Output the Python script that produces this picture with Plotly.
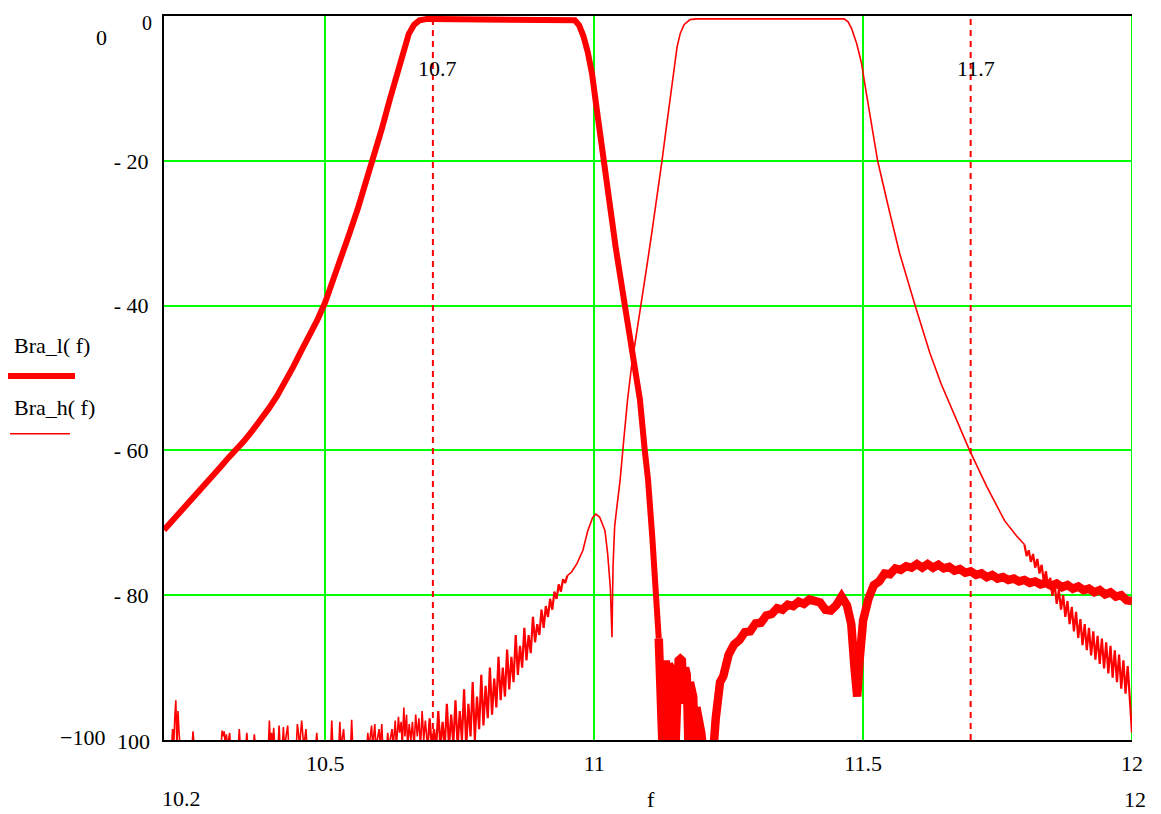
import numpy as np
import plotly.graph_objects as go

# ---------------- data ----------------
# Bra_l(f): thick curve – pass band and skirts
bra_l_f_main = [10.200, 10.215, 10.230, 10.245, 10.260, 10.275, 10.290, 10.305, 10.320, 10.336,
                10.350, 10.365, 10.380, 10.395, 10.410, 10.425, 10.440, 10.455, 10.470, 10.485,
                10.500, 10.515, 10.530, 10.545, 10.560, 10.575, 10.590, 10.605, 10.620, 10.635,
                10.645, 10.655, 10.665, 10.675, 10.690, 10.800, 10.900, 10.955, 10.964, 10.972,
                10.980, 10.988, 10.996, 11.004, 11.016, 11.028, 11.040, 11.057, 11.070, 11.085,
                11.094, 11.100, 11.108, 11.116, 11.120]
bra_l_y_main = [-71.0, -69.8, -68.5, -67.2, -66.0, -64.8, -63.5, -62.3, -61.0, -59.8,
                -58.6, -57.2, -55.8, -54.2, -52.5, -50.6, -48.5, -46.3, -44.2, -42.0,
                -39.5, -36.5, -33.3, -30.0, -26.7, -23.2, -19.5, -15.6, -11.5, -7.3,
                -4.5, -2.5, -1.2, -0.6, -0.4, -0.4, -0.4, -0.4, -0.6, -1.3,
                -2.8, -5.0, -8.0, -12.5, -19.5, -26.0, -32.0, -40.0, -45.5, -53.0,
                -60.0, -64.0, -72.0, -80.0, -86.0]
# Bra_l(f): thick curve – noisy stop band
bra_l_f_low = [11.120, 11.124, 11.127, 11.130, 11.133, 11.136, 11.139, 11.142, 11.145, 11.148,
               11.151, 11.154, 11.157, 11.160, 11.163, 11.166, 11.169, 11.172, 11.175, 11.178,
               11.181, 11.184, 11.187, 11.190, 11.193, 11.196, 11.199, 11.202, 11.206, 11.212,
               11.218, 11.222, 11.226, 11.230, 11.234]
bra_l_y_low = [-86.0, -95.0, -101.0, -92.0, -89.0, -101.0, -89.5, -90.0, -101.0, -96.0,
               -101.0, -91.0, -89.0, -88.8, -89.0, -95.0, -90.0, -91.0, -100.0, -92.0,
               -93.0, -94.0, -101.0, -95.5, -96.5, -98.0, -99.0, -101.0, -103.0, -104.0,
               -103.0, -101.0, -97.0, -94.0, -92.0]
bra_l_f_stop_a = np.round(np.arange(11.24, 11.4701, 0.01), 3)
bra_l_y_stop_a = [-91.2, -88.2, -86.8, -86.2, -85.1, -85.0, -83.9, -83.8, -82.8, -82.6,
                  -81.8, -82.0, -81.3, -81.5, -80.9, -81.2, -80.6, -80.9, -81.0, -82.0,
                  -82.1, -81.4, -80.2, -81.4]
bra_l_f_notch = [11.478, 11.484, 11.489, 11.494, 11.500]
bra_l_y_notch = [-84.0, -90.0, -94.0, -88.5, -83.5]
bra_l_f_stop_b = np.round(np.arange(11.51, 12.0001, 0.01), 3)
bra_l_y_stop_b = [-80.5, -78.6, -78.1, -77.0, -77.1, -76.3, -76.5, -76.0, -76.2, -75.7,
                  -76.2, -75.7, -76.2, -75.8, -76.3, -76.1, -76.6, -76.4, -76.9, -76.7,
                  -77.2, -77.0, -77.5, -77.2, -77.7, -77.5, -77.9, -77.7, -78.1, -77.9,
                  -78.3, -78.1, -78.5, -78.3, -78.7, -78.4, -78.9, -78.6, -79.1, -78.8,
                  -79.3, -79.1, -79.6, -79.3, -79.9, -79.6, -80.2, -80.0, -80.7, -80.8]

# Bra_h(f): thin curve – noise floor with spikes
bra_h_f_floor = [10.200, 10.214, 10.216, 10.218, 10.220, 10.222, 10.224, 10.226, 10.228, 10.230,
                 10.252, 10.254, 10.256, 10.306, 10.308, 10.310, 10.312, 10.314, 10.316, 10.318,
                 10.322, 10.324, 10.338, 10.340, 10.342, 10.352, 10.354, 10.356, 10.366, 10.368,
                 10.370, 10.394, 10.396, 10.398, 10.400, 10.402, 10.404, 10.406, 10.412, 10.414,
                 10.416, 10.420, 10.422, 10.424, 10.430, 10.432, 10.446, 10.448, 10.450, 10.452,
                 10.456, 10.458, 10.460, 10.464, 10.466, 10.482, 10.484, 10.486, 10.510, 10.512,
                 10.514, 10.525, 10.527, 10.529, 10.534, 10.536, 10.547, 10.549, 10.551, 10.577,
                 10.579, 10.581, 10.586, 10.588, 10.592, 10.594, 10.598, 10.600, 10.602, 10.605,
                 10.607, 10.614, 10.616, 10.618, 10.624, 10.626, 10.630, 10.632, 10.636, 10.638,
                 10.641, 10.643, 10.646, 10.648, 10.651, 10.653, 10.656, 10.659, 10.662, 10.665,
                 10.668, 10.671, 10.674, 10.677, 10.680, 10.683, 10.686, 10.690]
bra_h_y_floor = [-101.0, -101.0, -98.5, -101.0, -97.0, -94.5, -101.0, -96.0, -99.0, -101.0,
                 -101.0, -98.8, -101.0, -101.0, -98.7, -99.5, -98.8, -101.0, -99.2, -101.0,
                 -99.0, -101.0, -101.0, -98.5, -101.0, -101.0, -99.0, -101.0, -101.0, -99.2,
                 -101.0, -101.0, -97.3, -101.0, -99.0, -101.0, -98.3, -101.0, -101.0, -98.0,
                 -101.0, -101.0, -98.2, -101.0, -98.0, -101.0, -101.0, -97.8, -99.0, -101.0,
                 -97.3, -99.0, -101.0, -98.5, -101.0, -101.0, -99.0, -101.0, -101.0, -97.3,
                 -101.0, -101.0, -97.5, -101.0, -98.5, -101.0, -101.0, -97.2, -101.0, -101.0,
                 -99.0, -101.0, -98.0, -101.0, -97.8, -101.0, -99.0, -98.5, -101.0, -97.8,
                 -101.0, -101.0, -99.0, -101.0, -98.5, -101.0, -97.3, -101.0, -96.8, -99.0,
                 -97.5, -101.0, -95.5, -99.5, -96.5, -101.0, -97.8, -100.0, -97.5, -101.0,
                 -96.5, -99.5, -97.0, -101.0, -96.0, -100.0, -97.3, -101.0]
# Bra_h(f): thin curve – noisy rise below 11 GHz
bra_h_f_rise = np.round(np.arange(10.690, 10.9501, 0.004), 3)
bra_h_y_rise = [-101.0, -97.0, -101.0, -98.5, -101.0, -96.0, -101.0, -97.5, -101.0, -95.0,
                -101.0, -96.5, -100.5, -94.5, -101.0, -96.0, -100.0, -93.0, -101.0, -95.0,
                -99.5, -92.0, -100.0, -94.0, -98.5, -91.0, -98.0, -92.5, -97.0, -90.0,
                -96.5, -91.5, -95.5, -88.5, -94.5, -90.0, -94.0, -87.5, -93.0, -88.5,
                -92.0, -85.5, -91.0, -87.0, -90.0, -84.5, -89.0, -85.5, -88.0, -83.0,
                -86.5, -84.0, -85.5, -82.0, -84.5, -81.5, -83.0, -80.5, -82.0, -79.5,
                -80.5, -78.5, -79.5, -77.8, -78.3, -77.3]
# Bra_h(f): thin curve – clean part
bra_h_f_main = [10.950, 10.958, 10.968, 10.979, 10.988, 10.997, 11.003, 11.010, 11.020, 11.025,
                11.030, 11.033, 11.035, 11.038, 11.042, 11.048, 11.055, 11.062, 11.070, 11.079,
                11.088, 11.098, 11.107, 11.116, 11.126, 11.133, 11.141, 11.148, 11.154, 11.160,
                11.167, 11.178, 11.190, 11.300, 11.465, 11.472, 11.479, 11.488, 11.497, 11.505,
                11.516, 11.527, 11.549, 11.568, 11.596, 11.624, 11.645, 11.667, 11.698, 11.730,
                11.763, 11.785, 11.800]
bra_h_y_main = [-77.3, -76.8, -75.6, -73.8, -71.1, -69.3, -68.8, -69.2, -71.1, -74.3,
                -79.0, -85.8, -76.0, -70.5, -67.9, -64.2, -58.5, -53.0, -48.0, -43.8,
                -39.5, -34.5, -30.0, -25.5, -20.0, -16.0, -11.4, -7.3, -4.3, -2.4,
                -1.2, -0.5, -0.4, -0.4, -0.4, -0.8, -1.8, -3.8, -6.5, -10.2,
                -15.0, -20.0, -27.0, -32.8, -39.8, -46.5, -50.8, -54.6, -60.0, -65.0,
                -69.7, -71.8, -73.0]
# Bra_h(f): thin curve – noisy tail
bra_h_f_tail = np.round(np.arange(11.800, 12.0001, 0.004), 3)
bra_h_y_tail = [-73.0, -74.6, -73.8, -75.4, -74.3, -76.2, -75.0, -77.0, -75.8, -78.1,
                -76.7, -79.0, -77.6, -80.1, -78.4, -81.2, -79.3, -82.0, -80.0, -83.0,
                -80.8, -84.0, -81.6, -85.0, -82.3, -85.9, -83.3, -86.9, -84.0, -87.6,
                -84.5, -88.3, -85.0, -88.9, -85.6, -89.5, -86.0, -90.1, -86.5, -90.8,
                -87.0, -91.4, -87.6, -92.0, -88.2, -92.9, -89.0, -93.6, -89.8, -94.5,
                -99.0]

markers_f = [10.7, 11.7]
marker_labels = ["10.7", "11.7"]
x_tickvals = [10.5, 11, 11.5, 12]
x_ticktext = ["10.5", "11", "11.5", "12"]
y_tickvals = [-20, -40, -60, -80]
y_ticktext = ["- 20", "- 40", "- 60", "- 80"]

# ---------------- figure ----------------
OFF = 8                      # page body margin
WIN_W, WIN_H = 1161, 814
L, R, T, B = 164, 1132, 14, 740   # plot area in window pixels
W, H = WIN_W - OFF, WIN_H - OFF
RED = "#ff0000"
GREEN = "#00ff00"
FONT = "Liberation Serif"
FS = 22


def px(xp):
    return (xp - L) / (R - L)


def py(yp):
    return (B - yp) / (B - T)


fig = go.Figure()
thin = dict(color=RED, width=1.6)
noisy = dict(color=RED, width=2.2)
fig.add_trace(go.Scatter(x=bra_h_f_floor, y=bra_h_y_floor, mode="lines", line=thin, name="Bra_h(f)"))
fig.add_trace(go.Scatter(x=bra_h_f_rise, y=bra_h_y_rise, mode="lines", line=noisy, name="Bra_h(f)"))
fig.add_trace(go.Scatter(x=bra_h_f_main, y=bra_h_y_main, mode="lines", line=thin, name="Bra_h(f)"))
fig.add_trace(go.Scatter(x=bra_h_f_tail, y=bra_h_y_tail, mode="lines", line=noisy, name="Bra_h(f)"))
fig.add_trace(go.Scatter(x=bra_l_f_main, y=bra_l_y_main, mode="lines",
                         line=dict(color=RED, width=6), name="Bra_l(f)"))
stop_f = list(bra_l_f_low) + list(bra_l_f_stop_a) + bra_l_f_notch + list(bra_l_f_stop_b)
stop_y = bra_l_y_low + bra_l_y_stop_a + bra_l_y_notch + bra_l_y_stop_b
fig.add_trace(go.Scatter(x=stop_f, y=stop_y, mode="lines",
                         line=dict(color=RED, width=8.5), name="Bra_l(f)"))

shapes = []
for m in markers_f:
    shapes.append(dict(type="line", xref="x", yref="y", x0=m, x1=m, y0=-100, y1=0,
                       line=dict(color=RED, width=2, dash="6px,5px"), layer="between"))
shapes.append(dict(type="line", xref="x", yref="paper", x0=12, x1=12, y0=0, y1=1,
                   line=dict(color=GREEN, width=2), layer="between"))
# legend samples
shapes.append(dict(type="line", xref="paper", yref="paper", x0=px(8), x1=px(75),
                   y0=py(375), y1=py(375), line=dict(color=RED, width=6)))
shapes.append(dict(type="line", xref="paper", yref="paper", x0=px(10), x1=px(70),
                   y0=py(433), y1=py(433), line=dict(color=RED, width=1.5)))

annos = []


def txt(s, xp, yp, size=FS, xanchor="center"):
    annos.append(dict(text=s, x=px(xp), y=py(yp), xref="paper", yref="paper",
                      showarrow=False, xanchor=xanchor, yanchor="middle",
                      font=dict(family=FONT, size=size, color="black")))


for m, lab in zip(markers_f, marker_labels):
    xpix = L + (m - 10.2) / 1.8 * (R - L)
    txt(lab, xpix + 5, 67)
txt("Bra_l( f)", 12, 344, xanchor="left")
txt("Bra_h( f)", 12, 407, xanchor="left")
txt("0", 147, 21, size=20)
txt("0", 101, 36)
txt("\u2212100", 82, 737)
txt("100", 133, 742)
txt("10.2", 181, 799)
txt("f", 651, 800)
txt("12", 1135, 800)

fig.update_layout(
    width=W, height=H,
    margin=dict(l=L - OFF, r=WIN_W - R, t=T - OFF, b=WIN_H - B),
    paper_bgcolor="white", plot_bgcolor="white",
    showlegend=False,
    shapes=shapes, annotations=annos,
    font=dict(family=FONT, size=FS, color="black"),
    xaxis=dict(range=[10.2, 12], tickvals=x_tickvals, ticktext=x_ticktext,
               showgrid=True, gridcolor=GREEN, gridwidth=2, zeroline=False,
               showline=True, linecolor="black", linewidth=2, mirror=True,
               ticks="", ticklabelstandoff=3,
               tickfont=dict(family=FONT, size=FS, color="black")),
    yaxis=dict(range=[-100, 0], tickvals=y_tickvals, ticktext=y_ticktext,
               showgrid=True, gridcolor=GREEN, gridwidth=2, zeroline=False,
               showline=True, linecolor="black", linewidth=2, mirror=False,
               ticks="", ticklabelstandoff=9,
               tickfont=dict(family=FONT, size=FS, color="black")),
)

fig.write_html("out.html")
